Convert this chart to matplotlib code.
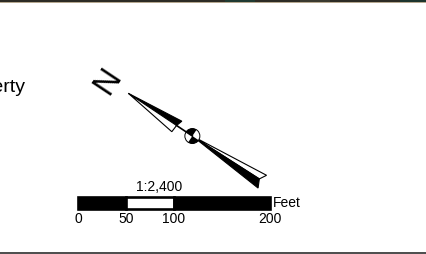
import numpy as np
import matplotlib
matplotlib.use("Agg")
import matplotlib.pyplot as plt
from matplotlib.patches import Polygon, Wedge, Circle, Rectangle

plt.rcParams['font.family'] = ['Liberation Sans', 'DejaVu Sans']

# scale bar (feet)
scale_breaks = [0, 50, 100, 200]
seg_colors = ['black', 'white', 'black']
scale_text = '1:2,400'
unit_text = 'Feet'
legend_text = 'Property'

# north arrow, local frame: u along the needle from the tip, v to its right
arrow_tip = (128.3, 93.3)
arrow_dir = (0.832, 0.555)
north_black = [(0, 0), (60, 6.5), (58, 0)]
north_white = [(0, 0), (57.5, -7.8), (58, 0)]
south_white = [(77, 0), (160.5, 8.5), (156.5, 1.5)]
south_black = [(77, 0), (160.5, -6.8), (156.5, 1.5)]
hub_u, hub_r = 77, 7.5

W, H = 426, 254
fig = plt.figure(figsize=(W / 100, H / 100), dpi=100)
ax = fig.add_axes([0, 0, 1, 1])
ax.set_xlim(0, W)
ax.set_ylim(H, 0)
ax.axis('off')

# strip of map imagery at the top and frame line at the bottom
ax.add_patch(Rectangle((0, 0), W, 1.6, color='#2c2b25', lw=0))
for x0, x1, c in [(225, 255, '#1f3a32'), (300, 330, '#3a3a30'), (400, 426, '#1d352e')]:
    ax.add_patch(Rectangle((x0, 0), x1 - x0, 1.6, color=c, lw=0))
ax.plot([0, W], [2.1, 2.1], color='#b3a58c', lw=0.7)
ax.add_patch(Rectangle((0, 251.8), W, 3, color='#505050', lw=0))

# legend label, cut by the left edge as in the map layout
ax.text(25.5, 88, legend_text, fontsize=14, ha='right', va='center')

# north arrow
T = np.array(arrow_tip)
d = np.array(arrow_dir)
n = np.array([d[1], -d[0]])


def to_px(pts):
    return [tuple(T + u * d + v * n) for u, v in pts]


for pts, fc in [(north_black, 'black'), (north_white, 'white'),
                (south_white, 'white'), (south_black, 'black')]:
    ax.add_patch(Polygon(to_px(pts), closed=True, fc=fc, ec='black', lw=0.8, joinstyle='miter'))
ax.plot(*zip(*to_px([(58, 0), (hub_u, 0)])), color='black', lw=1.2)

c = T + hub_u * d
a = np.degrees(np.arctan2(-d[1], -d[0]))
ax.add_patch(Circle(c, hub_r, fc='white', ec='black', lw=0.7))
ax.add_patch(Wedge(c, hub_r, a, a + 90, fc='black', lw=0))
ax.add_patch(Wedge(c, hub_r, a + 180, a + 270, fc='black', lw=0))

rot = np.degrees(np.arctan2(d[1], -d[0])) - 90
ax.text(108, 81, 'N', fontsize=24, rotation=rot, rotation_mode='anchor',
        ha='center', va='center')

# scale bar in its own axes, x in feet
sb = fig.add_axes([78 / W, (H - 209) / H, 192 / W, 12 / H])
sb.set_xlim(scale_breaks[0], scale_breaks[-1])
sb.set_ylim(0, 1)
sb.axis('off')
lefts = scale_breaks[:-1]
widths = np.diff(scale_breaks)
sb.barh(0.5, widths, left=lefts, height=0.92, color=seg_colors,
        edgecolor='black', linewidth=1.9, clip_on=False)
for b in scale_breaks:
    sb.text(b, -0.8, str(b), fontsize=10, ha='center', va='center', clip_on=False)
sb.text(84, 1.8, scale_text, fontsize=10, ha='center', va='center', clip_on=False)
sb.text(203, 0.5, unit_text, fontsize=10, ha='left', va='center', clip_on=False)

fig.savefig('out.png', dpi=100)
